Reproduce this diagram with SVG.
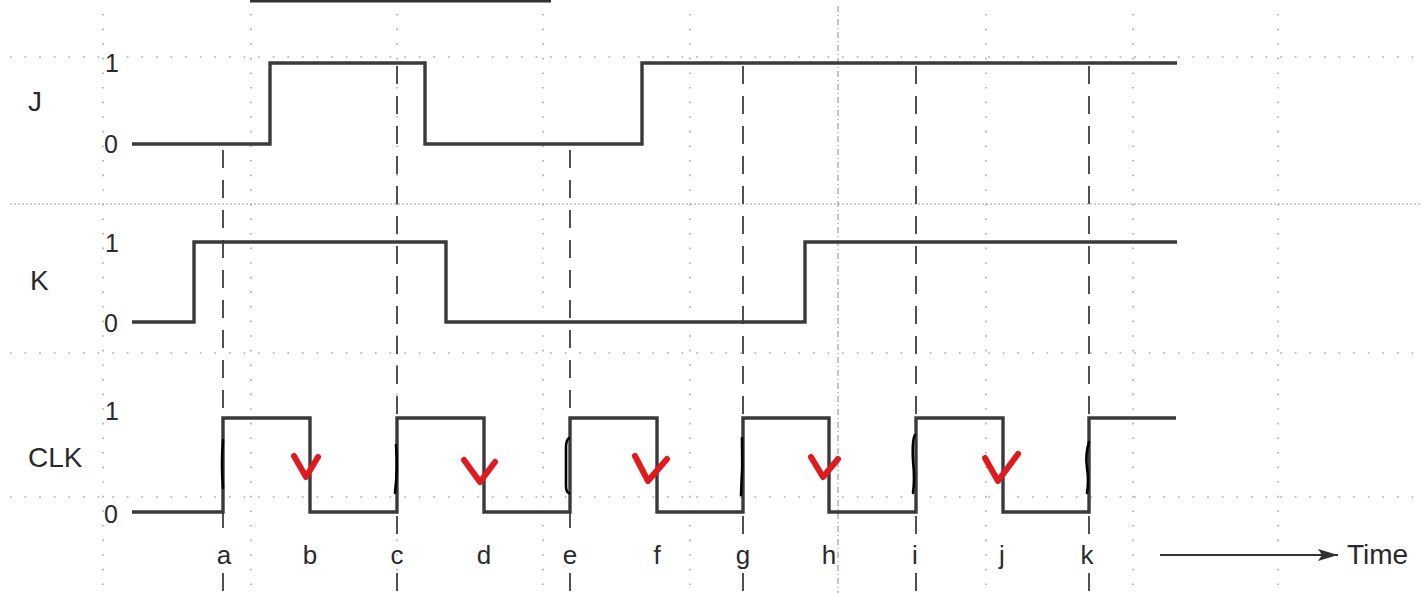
<svg xmlns="http://www.w3.org/2000/svg" width="1422" height="593" viewBox="0 0 1422 593">
<style>
.gv{stroke:#a8a8a8;stroke-width:1.6;stroke-dasharray:1.6 13;fill:none}
.gh{stroke:#a8a8a8;stroke-width:1.6;stroke-dasharray:1.6 13;fill:none}
.gd{stroke:#a0a0a0;stroke-width:1.2;stroke-dasharray:2 2;fill:none}
.dd{stroke:#8a8a8a;stroke-width:1;stroke-dasharray:6 3 1 3;fill:none}
.wave{stroke:#3a3a3a;stroke-width:3.4;fill:none;stroke-linejoin:miter}
.dash{stroke:#505050;stroke-width:2;stroke-dasharray:18 12;fill:none}
.lbl{font-family:"Liberation Sans",Arial,sans-serif;fill:#2a2a2a}
.big{font-size:28px}
.num{font-size:25px}
.tick{font-size:26px;text-anchor:middle}
.red{stroke:#e01a1f;stroke-width:6;fill:none;stroke-linecap:round;stroke-linejoin:round}
.blk{stroke:#000;stroke-width:2.6;fill:none;stroke-linecap:round}
</style>
<defs>
<marker id="arr" viewBox="0 0 20 12" refX="20" refY="6" markerWidth="20" markerHeight="12" markerUnits="userSpaceOnUse" orient="auto">
<path d="M0,0 L20,6 L0,12 L4,6 Z" fill="#333"/>
</marker>
</defs>
<rect width="1422" height="593" fill="#fff"/>
<g id="grid">
<line class="gv" x1="103" y1="14" x2="103" y2="593"/>
<line class="gv" x1="251" y1="14" x2="251" y2="593"/>
<line class="gv" x1="397" y1="14" x2="397" y2="593"/>
<line class="gv" x1="543" y1="14" x2="543" y2="593"/>
<line class="gv" x1="690" y1="14" x2="690" y2="593"/>
<line class="gv" x1="986" y1="14" x2="986" y2="593"/>
<line class="gv" x1="1133" y1="14" x2="1133" y2="593"/>
<line class="gv" x1="1278" y1="14" x2="1278" y2="593"/>
<line class="dd" x1="838" y1="6" x2="838" y2="593"/>
<line class="gh" x1="10" y1="57" x2="1416" y2="57"/>
<line class="gd" x1="10" y1="204" x2="1422" y2="204"/>
<line class="gh" x1="10" y1="353" x2="1416" y2="353"/>
<line class="gh" x1="10" y1="497" x2="1416" y2="497"/>
</g>
<line id="topbar" x1="250" y1="1" x2="551" y2="1" stroke="#333" stroke-width="3"/>
<g id="markers">
<path class="dash" d="M223,150 V535 M223,573 V593"/>
<path class="dash" d="M397,66 V535 M397,573 V593"/>
<path class="dash" d="M570,150 V535 M570,573 V593"/>
<path class="dash" d="M743,66 V535 M743,573 V593"/>
<path class="dash" d="M916,66 V535 M916,573 V593"/>
<path class="dash" d="M1089,66 V535 M1089,573 V593"/>
</g>
<g id="J">
<text class="lbl big" x="28" y="111">J</text>
<text class="lbl num" x="105" y="72">1</text>
<text class="lbl num" x="104" y="153">0</text>
<path class="wave" d="M132,144 H270 V63 H425 V144 H642 V63 H1177"/>
</g>
<g id="K">
<text class="lbl big" x="30" y="290">K</text>
<text class="lbl num" x="105" y="252">1</text>
<text class="lbl num" x="104" y="332">0</text>
<path class="wave" d="M132,322 H194 V242 H446 V322 H805 V242 H1177"/>
</g>
<g id="CLK">
<text class="lbl big" x="28" y="467">CLK</text>
<text class="lbl num" x="105" y="420">1</text>
<text class="lbl num" x="104" y="523">0</text>
<path class="wave" d="M132,512 H223 V418 H310 V512 H397 V418 H484 V512 H570 V418 H657 V512 H743 V418 H829 V512 H916 V418 H1003 V512 H1089 V418 H1176"/>
</g>
<g id="rising-marks">
<path class="blk" d="M223,440 Q221,464 223,488"/>
<path class="blk" d="M396,445 Q398,468 395,493"/>
<path class="blk" d="M569,438 Q566,440 566,448 L566,486 Q566,492 569,493"/>
<path class="blk" d="M742,438 Q743,466 741,495"/>
<path class="blk" d="M915,435 Q912,440 913,460 Q915,480 913,493"/>
<path class="blk" d="M1089,442 Q1085,455 1087,468 Q1089,480 1087,493"/>
</g>
<g id="falling-checks">
<path class="red" d="M294,456 L306,477 L318,457"/>
<path class="red" d="M464,460 L480,482 L495,462"/>
<path class="red" d="M635,456 L648,481 L667,459"/>
<path class="red" d="M811,457 L823,477 L838,459"/>
<path class="red" d="M985,458 L998,481 L1018,454"/>
</g>
<g id="time-labels">
<text class="lbl tick" x="224" y="564">a</text>
<text class="lbl tick" x="310" y="564">b</text>
<text class="lbl tick" x="397" y="564">c</text>
<text class="lbl tick" x="484" y="564">d</text>
<text class="lbl tick" x="570" y="564">e</text>
<text class="lbl tick" x="657" y="564">f</text>
<text class="lbl tick" x="743" y="564">g</text>
<text class="lbl tick" x="829" y="564">h</text>
<text class="lbl tick" x="915" y="564">i</text>
<text class="lbl tick" x="1002" y="564">j</text>
<text class="lbl tick" x="1087" y="564">k</text>
</g>
<g id="connectors">
<line x1="1160" y1="555" x2="1338" y2="555" stroke="#333" stroke-width="1.8" marker-end="url(#arr)"/>
</g>
<text class="lbl big" x="1347" y="564">Time</text>
</svg>
